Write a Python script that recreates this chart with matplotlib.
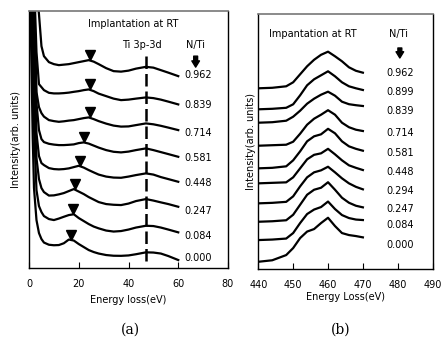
import numpy as np
import matplotlib
matplotlib.use("Agg")
import matplotlib.pyplot as plt

OUTPUT_PATH = "out.png"

# ---- panel (a): low-loss spectra, energy 0-60 eV ----
energy_a = [0.5, 1, 1.5, 2, 3, 4, 5, 6, 8, 10, 12, 14, 16, 18, 20, 22, 24, 26,
            28, 31, 34, 37, 40, 43, 47, 50, 53, 56, 60]
labels_a = ["0.962", "0.839", "0.714", "0.581", "0.448", "0.247", "0.084", "0.000"]
spectra_a = [
    [330, 320, 310, 300, 280, 254, 222, 212, 206, 204, 203, 203.5, 204, 205, 206, 207, 208,
     206.5, 204, 200, 197, 196.5, 197.5, 199.5, 201.3, 200.5, 198, 195.5, 192],
    [330, 320, 310, 290, 216, 184, 181, 178, 175.3, 174.7, 174.7, 175, 175.5, 176.3, 177, 178,
     178.7, 177, 174.5, 172, 169.5, 168, 168.5, 169.5, 170.7, 170, 168.5, 166.5, 163.7],
    [330, 315, 300, 275, 176, 161, 155, 151.5, 148, 147, 146.3, 146.8, 147.5, 148, 149, 150,
     150.7, 149, 147, 144.5, 142.5, 141.5, 141.7, 143, 144.7, 143.8, 142.3, 140.5, 138],
    [330, 310, 285, 245, 165, 138, 129, 126, 124.3, 123.5, 123, 123, 123.3, 123.7, 125, 125.7,
     124.5, 122.5, 120.5, 118, 116.3, 115.7, 116.5, 118, 119.7, 118, 116, 114, 111.3],
    [320, 290, 255, 210, 135, 112, 105, 103, 100, 99, 98.7, 99, 99.7, 101, 102.3, 100.5, 98,
     95.7, 93.5, 91.5, 90.5, 90.3, 91.5, 93, 94.7, 93.5, 91, 89, 86.3],
    [300, 260, 215, 170, 110, 89, 80, 76, 72.5, 72.7, 73.7, 75, 77, 79, 76.5, 74, 71, 68.5,
     66, 64, 63.3, 63, 64.5, 67, 69, 67.5, 65.7, 64, 61.3],
    [290, 240, 190, 140, 78, 62, 56, 52, 49, 48, 49.5, 51.3, 53, 53.8, 50, 47, 44, 41.5,
     39.7, 37.5, 36.5, 37, 38.5, 40.5, 42.3, 42, 40.5, 38.5, 35.7],
    [270, 200, 130, 80, 48, 35, 29, 25.5, 23.3, 22.8, 23, 24.8, 28.5, 27.5, 24, 21, 18, 16,
     14.5, 13, 12.3, 12.2, 12.6, 13.8, 15.7, 15.5, 14.5, 12, 8],
]
peak_a = [24.4, 24.4, 24.4, 22.3, 20.3, 18.3, 17.6, 17.0]
label_y_a = [193, 163, 135, 110, 85, 57, 32, 10]
ti_3p3d = 47

# ---- panel (b): Ti L-edge, energy 440-470 eV ----
energy_b = [440, 444, 448, 450, 452, 454, 456, 458, 460, 462, 464, 466, 468, 470]
labels_b = ["0.962", "0.899", "0.839", "0.714", "0.581", "0.448", "0.294", "0.247", "0.084", "0.000"]
offsets_b = [180.7, 159.7, 146.3, 123.3, 100.7, 85.7, 65.7, 47.3, 29, 7.3]
spectra_b = [
    [0, 0.5, 2, 6, 14, 22, 28.5, 33.5, 36.6, 32, 27, 21, 17.5, 15.6],
    [0, 0.5, 1.5, 5, 14, 24, 30, 34, 38, 33, 27, 23, 21, 19.3],
    [0, 0.5, 2, 6, 12, 19, 24, 28, 31, 27, 21, 18.5, 17.5, 16.7],
    [0, 0.5, 1, 4, 12, 21, 27, 31, 35.5, 31, 23, 18.5, 16, 14.7],
    [0, 0.5, 2, 8, 17, 27, 32, 34, 39.5, 35, 27, 22, 19.5, 17.6],
    [0, 0.5, 1, 6, 15, 24, 28.5, 30, 34.5, 29, 23, 18, 15.5, 13.3],
    [0, 0.5, 1.5, 7, 17, 26, 31, 33, 36.6, 31, 25, 20, 16.5, 14],
    [0, 0.5, 1.5, 7, 17, 27, 32, 34, 39.5, 32, 24, 19, 16, 14.4],
    [0, 0.5, 1.5, 7, 17, 26, 30.5, 33, 38.5, 31, 25, 22, 20.5, 20],
    [0, 1.5, 6.7, 13.7, 23.7, 30.2, 32.7, 38.7, 44, 35.7, 28.7, 26.7, 25.7, 24.4],
]
label_y_b = [196, 177, 158, 136, 116, 97, 78, 60, 44, 24]

FS = 7


def style_axes(ax):
    for side in ["left", "right", "bottom"]:
        ax.spines[side].set_color("black")
        ax.spines[side].set_linewidth(1.0)
    ax.spines["top"].set_color("#777777")
    ax.spines["top"].set_linewidth(1.2)
    ax.set_yticks([])
    ax.tick_params(axis="x", direction="in", length=4, pad=8, labelsize=FS)


def down_arrow(ax, x, y_top, y_bot):
    ax.annotate("", xy=(x, y_bot), xytext=(x, y_top),
                arrowprops=dict(arrowstyle="simple,head_width=0.55,head_length=0.45,tail_width=0.28",
                                color="black", shrinkA=0, shrinkB=0))


def main():
    fig = plt.figure(figsize=(4.41, 3.49), dpi=100)
    ax_a = fig.add_axes([0.0658, 0.232, 0.4512, 0.736])
    ax_b = fig.add_axes([0.5857, 0.229, 0.3953, 0.731])

    # panel (a)
    for vals, pk in zip(spectra_a, peak_a):
        ax_a.plot(energy_a, vals, color="black", lw=1.6, solid_joinstyle="round")
        tip = np.interp(pk, energy_a, vals)
        ax_a.plot(pk, tip + 5.5, marker="v", color="black", ms=7, clip_on=False)
    ax_a.vlines(ti_3p3d, 7, 213, color="black", lw=1.8, linestyles=(0, (5, 2)))
    for lab, y in zip(labels_a, label_y_a):
        ax_a.text(68, y, lab, ha="center", va="center", fontsize=FS)
    ax_a.text(41.7, 244, "Implantation at RT", ha="center", va="center", fontsize=FS)
    ax_a.text(45.3, 223, "Ti 3p-3d", ha="center", va="center", fontsize=FS)
    ax_a.text(67, 223, "N/Ti", ha="center", va="center", fontsize=FS)
    down_arrow(ax_a, 67, 212, 201)
    ax_a.set_xlim(0, 80)
    ax_a.set_ylim(0, 257)
    ax_a.set_xticks([0, 20, 40, 60, 80])
    style_axes(ax_a)
    ax_a.set_xlabel("Energy loss(eV)", fontsize=FS, labelpad=4)
    ax_a.set_ylabel("Intensity(arb. units)", fontsize=FS, labelpad=6)

    # panel (b)
    for off, rel in zip(offsets_b, spectra_b):
        ax_b.plot(energy_b, np.array(rel) + off, color="black", lw=1.6, solid_joinstyle="round")
    for lab, y in zip(labels_b, label_y_b):
        ax_b.text(480.6, y, lab, ha="center", va="center", fontsize=FS)
    ax_b.text(455.7, 235, "Impantation at RT", ha="center", va="center", fontsize=FS)
    ax_b.text(480.1, 235, "N/Ti", ha="center", va="center", fontsize=FS)
    down_arrow(ax_b, 480.6, 221, 211)
    ax_b.set_xlim(440, 490)
    ax_b.set_ylim(0, 255)
    ax_b.set_xticks([440, 450, 460, 470, 480, 490])
    style_axes(ax_b)
    ax_b.set_xlabel("Energy Loss(eV)", fontsize=FS, labelpad=1)
    ax_b.set_ylabel("Intensity(arb. units)", fontsize=FS, labelpad=2)

    fig.text(130 / 441, 1 - 330 / 349, "(a)", ha="center", va="center",
             fontsize=10, family="DejaVu Serif")
    fig.text(341 / 441, 1 - 330 / 349, "(b)", ha="center", va="center",
             fontsize=10, family="DejaVu Serif")

    fig.savefig(OUTPUT_PATH, dpi=100)
    plt.close(fig)


if __name__ == "__main__":
    main()
